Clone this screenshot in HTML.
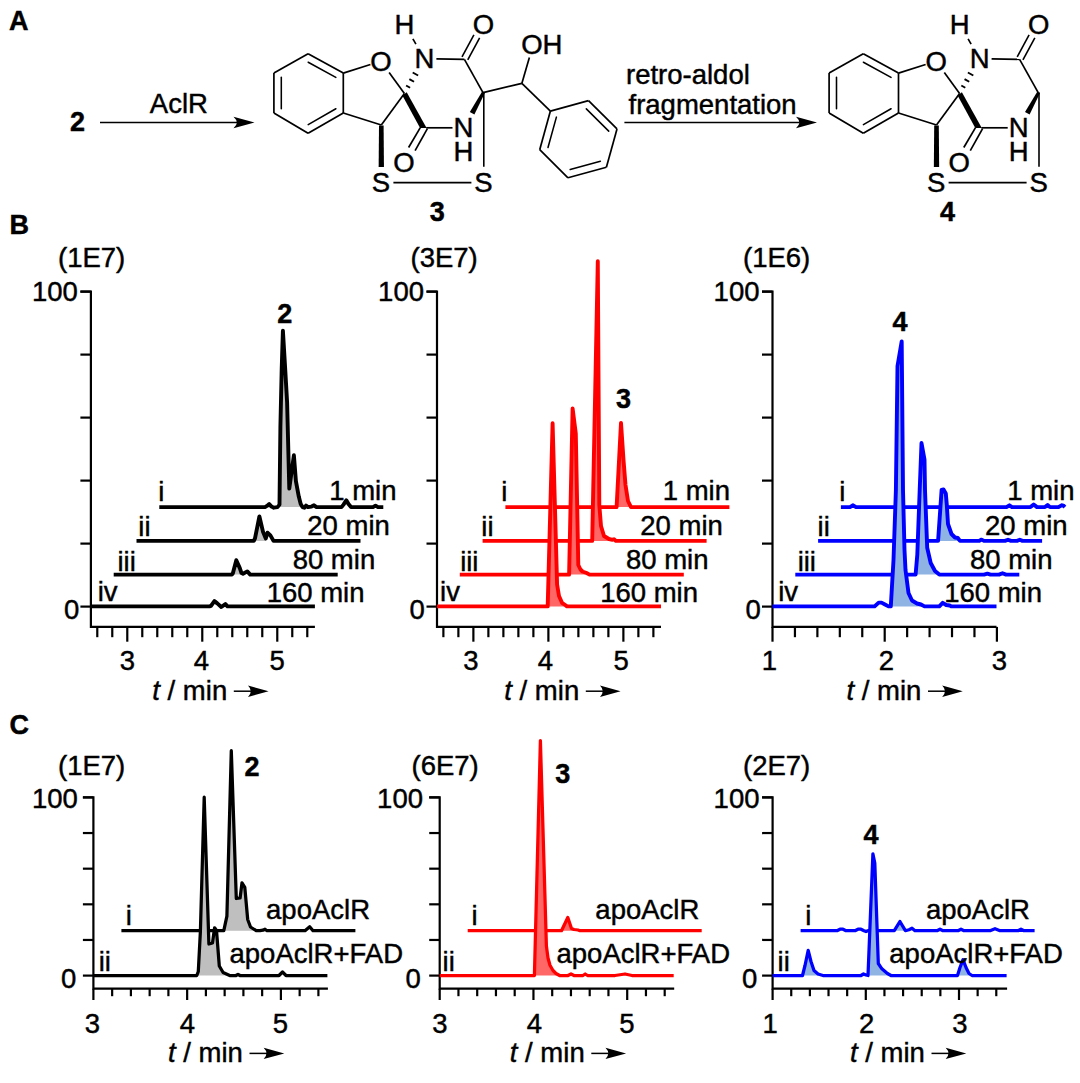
<!DOCTYPE html>
<html><head><meta charset="utf-8"><style>
html,body{margin:0;padding:0;background:#fff;}
svg{display:block;font-family:"Liberation Sans", sans-serif;}
text{stroke:#000;stroke-width:0.45px;}
</style></head><body>
<svg width="1080" height="1083" viewBox="0 0 1080 1083">
<rect width="1080" height="1083" fill="#fff"/>
<text x="9" y="29.5" text-anchor="start" font-size="27" font-weight="bold" font-style="normal" fill="#000">A</text>
<text x="77.6" y="131.3" text-anchor="middle" font-size="27" font-weight="bold" font-style="normal" fill="#000">2</text>
<text x="178.9" y="113" text-anchor="middle" font-size="27.5" font-weight="normal" font-style="normal" fill="#000">AclR</text>
<line x1="100" y1="122.5" x2="237.25" y2="122.5" stroke="#000" stroke-width="1.6" stroke-linecap="butt"/>
<path d="M254.50,122.50 L233.50,116.70 Q240.00,122.50 233.50,128.30 Z" fill="#000"/>
<line x1="308.1" y1="53.7" x2="343.3" y2="73.1" stroke="#000" stroke-width="1.7" stroke-linecap="butt"/>
<line x1="343.3" y1="73.1" x2="343.3" y2="113.0" stroke="#000" stroke-width="1.7" stroke-linecap="butt"/>
<line x1="343.3" y1="113.0" x2="308.1" y2="133.3" stroke="#000" stroke-width="1.7" stroke-linecap="butt"/>
<line x1="308.1" y1="133.3" x2="273.9" y2="113.0" stroke="#000" stroke-width="1.7" stroke-linecap="butt"/>
<line x1="273.9" y1="113.0" x2="273.9" y2="73.1" stroke="#000" stroke-width="1.7" stroke-linecap="butt"/>
<line x1="273.9" y1="73.1" x2="308.1" y2="53.7" stroke="#000" stroke-width="1.7" stroke-linecap="butt"/>
<line x1="281.30" y1="77.39" x2="281.30" y2="108.78" stroke="#000" stroke-width="1.55" stroke-linecap="round"/>
<line x1="308.21" y1="62.21" x2="335.83" y2="77.43" stroke="#000" stroke-width="1.55" stroke-linecap="round"/>
<line x1="308.21" y1="124.70" x2="335.85" y2="108.75" stroke="#000" stroke-width="1.55" stroke-linecap="round"/>
<line x1="343.3" y1="73.1" x2="370.42" y2="64.44" stroke="#000" stroke-width="1.7" stroke-linecap="butt"/>
<line x1="389.12" y1="72.43" x2="404.4" y2="93.5" stroke="#000" stroke-width="1.7" stroke-linecap="butt"/>
<line x1="343.3" y1="113.0" x2="381.3" y2="125.0" stroke="#000" stroke-width="1.7" stroke-linecap="butt"/>
<line x1="381.3" y1="125.0" x2="404.4" y2="93.5" stroke="#000" stroke-width="1.7" stroke-linecap="butt"/>
<polygon points="379.00,125.50 378.65,167.00 383.95,167.00 383.60,125.50" fill="#000"/>
<text x="380.9" y="192.4" text-anchor="middle" font-size="27.5" font-weight="normal" font-style="normal" fill="#000">S</text>
<text x="483.4" y="192.4" text-anchor="middle" font-size="27.5" font-weight="normal" font-style="normal" fill="#000">S</text>
<line x1="393.4" y1="182.6" x2="471.4" y2="182.6" stroke="#000" stroke-width="1.7" stroke-linecap="butt"/>
<polygon points="402.40,95.60 406.70,92.30 426.60,127.90 420.10,127.90" fill="#000"/>
<line x1="420.3" y1="127.6" x2="408.6" y2="147.5" stroke="#000" stroke-width="1.7" stroke-linecap="butt"/>
<line x1="427.4" y1="128.6" x2="415.1" y2="150.7" stroke="#000" stroke-width="1.7" stroke-linecap="butt"/>
<text x="404" y="172.1" text-anchor="middle" font-size="27.5" font-weight="normal" font-style="normal" fill="#000">O</text>
<line x1="426.2" y1="127.8" x2="452.5" y2="127.8" stroke="#000" stroke-width="1.7" stroke-linecap="butt"/>
<text x="463.5" y="137.4" text-anchor="middle" font-size="27.5" font-weight="normal" font-style="normal" fill="#000">N</text>
<text x="463.5" y="160.6" text-anchor="middle" font-size="27.5" font-weight="normal" font-style="normal" fill="#000">H</text>
<line x1="406.1" y1="85.47" x2="410.1" y2="87.73" stroke="#000" stroke-width="1.9" stroke-linecap="butt"/>
<line x1="409.35" y1="79.07" x2="414.05" y2="81.73" stroke="#000" stroke-width="1.9" stroke-linecap="butt"/>
<line x1="412.7" y1="72.48" x2="418.1" y2="75.52" stroke="#000" stroke-width="1.9" stroke-linecap="butt"/>
<text x="424.4" y="68.39999999999999" text-anchor="middle" font-size="27.5" font-weight="normal" font-style="normal" fill="#000">N</text>
<text x="404.4" y="33.7" text-anchor="middle" font-size="27.5" font-weight="normal" font-style="normal" fill="#000">H</text>
<line x1="412.89" y1="38.83" x2="415.91" y2="44.07" stroke="#000" stroke-width="1.7" stroke-linecap="butt"/>
<line x1="436.4" y1="58.95" x2="464.4" y2="59.3" stroke="#000" stroke-width="1.7" stroke-linecap="butt"/>
<line x1="467.74" y1="59.96" x2="479.63" y2="37.87" stroke="#000" stroke-width="1.6" stroke-linecap="butt"/>
<line x1="462.01" y1="56.88" x2="473.9" y2="34.79" stroke="#000" stroke-width="1.6" stroke-linecap="butt"/>
<text x="483.4" y="33.8" text-anchor="middle" font-size="27.5" font-weight="normal" font-style="normal" fill="#000">O</text>
<line x1="464.4" y1="59.3" x2="483.0" y2="92.6" stroke="#000" stroke-width="1.7" stroke-linecap="butt"/>
<polygon points="482.18,91.49 469.81,112.06 474.39,114.54 484.82,92.91" fill="#000"/>
<line x1="483.8" y1="92.6" x2="483.8" y2="166.8" stroke="#000" stroke-width="1.6" stroke-linecap="butt"/>
<text x="380.9" y="70.7" text-anchor="middle" font-size="27.5" font-weight="normal" font-style="normal" fill="#000">O</text>
<line x1="483.0" y1="92.6" x2="521.9" y2="83.3" stroke="#000" stroke-width="1.7" stroke-linecap="butt"/>
<line x1="521.9" y1="83.3" x2="529.38" y2="57.49" stroke="#000" stroke-width="1.7" stroke-linecap="butt"/>
<text x="541.8" y="53.8" text-anchor="middle" font-size="27.5" font-weight="normal" font-style="normal" fill="#000">OH</text>
<line x1="521.9" y1="83.3" x2="550.4" y2="111.1" stroke="#000" stroke-width="1.7" stroke-linecap="butt"/>
<line x1="550.4" y1="111.1" x2="588.5" y2="100.6" stroke="#000" stroke-width="1.7" stroke-linecap="butt"/>
<line x1="588.5" y1="100.6" x2="617.0" y2="128.9" stroke="#000" stroke-width="1.7" stroke-linecap="butt"/>
<line x1="617.0" y1="128.9" x2="606.4" y2="167.3" stroke="#000" stroke-width="1.7" stroke-linecap="butt"/>
<line x1="606.4" y1="167.3" x2="568.0" y2="177.8" stroke="#000" stroke-width="1.7" stroke-linecap="butt"/>
<line x1="568.0" y1="177.8" x2="539.7" y2="149.7" stroke="#000" stroke-width="1.7" stroke-linecap="butt"/>
<line x1="539.7" y1="149.7" x2="550.4" y2="111.1" stroke="#000" stroke-width="1.7" stroke-linecap="butt"/>
<line x1="586.32" y1="108.86" x2="608.72" y2="131.10" stroke="#000" stroke-width="1.55" stroke-linecap="round"/>
<line x1="570.21" y1="169.52" x2="600.38" y2="161.28" stroke="#000" stroke-width="1.55" stroke-linecap="round"/>
<line x1="556.40" y1="117.15" x2="548.00" y2="147.44" stroke="#000" stroke-width="1.55" stroke-linecap="round"/>
<text x="437.3" y="220.9" text-anchor="middle" font-size="27" font-weight="bold" font-style="normal" fill="#000">3</text>
<text x="626" y="84.3" text-anchor="start" font-size="27.5" font-weight="normal" font-style="normal" fill="#000">retro-aldol</text>
<text x="628.5" y="113.6" text-anchor="start" font-size="27.5" font-weight="normal" font-style="normal" fill="#000">fragmentation</text>
<line x1="624.4" y1="122.5" x2="799.75" y2="122.5" stroke="#000" stroke-width="1.6" stroke-linecap="butt"/>
<path d="M817.00,122.50 L796.00,116.70 Q802.50,122.50 796.00,128.30 Z" fill="#000"/>
<line x1="863.3" y1="53.7" x2="898.5" y2="73.1" stroke="#000" stroke-width="1.7" stroke-linecap="butt"/>
<line x1="898.5" y1="73.1" x2="898.5" y2="113.0" stroke="#000" stroke-width="1.7" stroke-linecap="butt"/>
<line x1="898.5" y1="113.0" x2="863.3" y2="133.3" stroke="#000" stroke-width="1.7" stroke-linecap="butt"/>
<line x1="863.3" y1="133.3" x2="829.1" y2="113.0" stroke="#000" stroke-width="1.7" stroke-linecap="butt"/>
<line x1="829.1" y1="113.0" x2="829.1" y2="73.1" stroke="#000" stroke-width="1.7" stroke-linecap="butt"/>
<line x1="829.1" y1="73.1" x2="863.3" y2="53.7" stroke="#000" stroke-width="1.7" stroke-linecap="butt"/>
<line x1="836.50" y1="77.39" x2="836.50" y2="108.78" stroke="#000" stroke-width="1.55" stroke-linecap="round"/>
<line x1="863.41" y1="62.21" x2="891.03" y2="77.43" stroke="#000" stroke-width="1.55" stroke-linecap="round"/>
<line x1="863.41" y1="124.70" x2="891.05" y2="108.75" stroke="#000" stroke-width="1.55" stroke-linecap="round"/>
<line x1="898.5" y1="73.1" x2="925.62" y2="64.44" stroke="#000" stroke-width="1.7" stroke-linecap="butt"/>
<line x1="944.32" y1="72.43" x2="959.6" y2="93.5" stroke="#000" stroke-width="1.7" stroke-linecap="butt"/>
<line x1="898.5" y1="113.0" x2="936.5" y2="125.0" stroke="#000" stroke-width="1.7" stroke-linecap="butt"/>
<line x1="936.5" y1="125.0" x2="959.6" y2="93.5" stroke="#000" stroke-width="1.7" stroke-linecap="butt"/>
<polygon points="934.20,125.50 933.85,167.00 939.15,167.00 938.80,125.50" fill="#000"/>
<text x="936.1" y="192.4" text-anchor="middle" font-size="27.5" font-weight="normal" font-style="normal" fill="#000">S</text>
<text x="1038.6" y="192.4" text-anchor="middle" font-size="27.5" font-weight="normal" font-style="normal" fill="#000">S</text>
<line x1="948.6" y1="182.6" x2="1026.6" y2="182.6" stroke="#000" stroke-width="1.7" stroke-linecap="butt"/>
<polygon points="957.60,95.60 961.90,92.30 981.80,127.90 975.30,127.90" fill="#000"/>
<line x1="975.5" y1="127.6" x2="963.8" y2="147.5" stroke="#000" stroke-width="1.7" stroke-linecap="butt"/>
<line x1="982.6" y1="128.6" x2="970.3" y2="150.7" stroke="#000" stroke-width="1.7" stroke-linecap="butt"/>
<text x="959.2" y="172.1" text-anchor="middle" font-size="27.5" font-weight="normal" font-style="normal" fill="#000">O</text>
<line x1="981.4" y1="127.8" x2="1007.7" y2="127.8" stroke="#000" stroke-width="1.7" stroke-linecap="butt"/>
<text x="1018.7" y="137.4" text-anchor="middle" font-size="27.5" font-weight="normal" font-style="normal" fill="#000">N</text>
<text x="1018.7" y="160.6" text-anchor="middle" font-size="27.5" font-weight="normal" font-style="normal" fill="#000">H</text>
<line x1="961.3" y1="85.47" x2="965.3" y2="87.73" stroke="#000" stroke-width="1.9" stroke-linecap="butt"/>
<line x1="964.55" y1="79.07" x2="969.25" y2="81.73" stroke="#000" stroke-width="1.9" stroke-linecap="butt"/>
<line x1="967.9" y1="72.48" x2="973.3" y2="75.52" stroke="#000" stroke-width="1.9" stroke-linecap="butt"/>
<text x="979.6" y="68.39999999999999" text-anchor="middle" font-size="27.5" font-weight="normal" font-style="normal" fill="#000">N</text>
<text x="959.6" y="33.7" text-anchor="middle" font-size="27.5" font-weight="normal" font-style="normal" fill="#000">H</text>
<line x1="968.09" y1="38.83" x2="971.11" y2="44.07" stroke="#000" stroke-width="1.7" stroke-linecap="butt"/>
<line x1="991.6" y1="58.95" x2="1019.6" y2="59.3" stroke="#000" stroke-width="1.7" stroke-linecap="butt"/>
<line x1="1022.94" y1="59.96" x2="1034.83" y2="37.87" stroke="#000" stroke-width="1.6" stroke-linecap="butt"/>
<line x1="1017.21" y1="56.88" x2="1029.1" y2="34.79" stroke="#000" stroke-width="1.6" stroke-linecap="butt"/>
<text x="1038.6" y="33.8" text-anchor="middle" font-size="27.5" font-weight="normal" font-style="normal" fill="#000">O</text>
<line x1="1019.6" y1="59.3" x2="1038.2" y2="92.6" stroke="#000" stroke-width="1.7" stroke-linecap="butt"/>
<polygon points="1037.38,91.49 1025.01,112.06 1029.59,114.54 1040.02,92.91" fill="#000"/>
<line x1="1039.0" y1="92.6" x2="1039.0" y2="166.8" stroke="#000" stroke-width="1.6" stroke-linecap="butt"/>
<text x="936.1" y="70.7" text-anchor="middle" font-size="27.5" font-weight="normal" font-style="normal" fill="#000">O</text>
<text x="947.6" y="220.9" text-anchor="middle" font-size="27" font-weight="bold" font-style="normal" fill="#000">4</text>
<path d="M80.4,291.6 H90.9 V626.9 H314.9" fill="none" stroke="#000" stroke-width="2.2" stroke-linejoin="miter"/>
<line x1="80.4" y1="606.6" x2="90.9" y2="606.6" stroke="#000" stroke-width="2.2" stroke-linecap="butt"/>
<line x1="80.4" y1="543.6" x2="90.9" y2="543.6" stroke="#000" stroke-width="2.2" stroke-linecap="butt"/>
<line x1="80.4" y1="480.6" x2="90.9" y2="480.6" stroke="#000" stroke-width="2.2" stroke-linecap="butt"/>
<line x1="80.4" y1="417.6" x2="90.9" y2="417.6" stroke="#000" stroke-width="2.2" stroke-linecap="butt"/>
<line x1="80.4" y1="354.6" x2="90.9" y2="354.6" stroke="#000" stroke-width="2.2" stroke-linecap="butt"/>
<line x1="80.4" y1="291.6" x2="90.9" y2="291.6" stroke="#000" stroke-width="2.2" stroke-linecap="butt"/>
<line x1="97.28" y1="626.9" x2="97.28" y2="637.1999999999999" stroke="#000" stroke-width="2.2" stroke-linecap="butt"/>
<line x1="112.27" y1="626.9" x2="112.27" y2="637.1999999999999" stroke="#000" stroke-width="2.2" stroke-linecap="butt"/>
<line x1="127.28" y1="626.9" x2="127.28" y2="641.6999999999999" stroke="#000" stroke-width="2.2" stroke-linecap="butt"/>
<line x1="142.28" y1="626.9" x2="142.28" y2="637.1999999999999" stroke="#000" stroke-width="2.2" stroke-linecap="butt"/>
<line x1="157.27" y1="626.9" x2="157.27" y2="637.1999999999999" stroke="#000" stroke-width="2.2" stroke-linecap="butt"/>
<line x1="172.28" y1="626.9" x2="172.28" y2="637.1999999999999" stroke="#000" stroke-width="2.2" stroke-linecap="butt"/>
<line x1="187.27" y1="626.9" x2="187.27" y2="637.1999999999999" stroke="#000" stroke-width="2.2" stroke-linecap="butt"/>
<line x1="202.27" y1="626.9" x2="202.27" y2="641.6999999999999" stroke="#000" stroke-width="2.2" stroke-linecap="butt"/>
<line x1="217.28" y1="626.9" x2="217.28" y2="637.1999999999999" stroke="#000" stroke-width="2.2" stroke-linecap="butt"/>
<line x1="232.28" y1="626.9" x2="232.28" y2="637.1999999999999" stroke="#000" stroke-width="2.2" stroke-linecap="butt"/>
<line x1="247.27" y1="626.9" x2="247.27" y2="637.1999999999999" stroke="#000" stroke-width="2.2" stroke-linecap="butt"/>
<line x1="262.27" y1="626.9" x2="262.27" y2="637.1999999999999" stroke="#000" stroke-width="2.2" stroke-linecap="butt"/>
<line x1="277.27" y1="626.9" x2="277.27" y2="641.6999999999999" stroke="#000" stroke-width="2.2" stroke-linecap="butt"/>
<line x1="292.27" y1="626.9" x2="292.27" y2="637.1999999999999" stroke="#000" stroke-width="2.2" stroke-linecap="butt"/>
<line x1="307.28" y1="626.9" x2="307.28" y2="637.1999999999999" stroke="#000" stroke-width="2.2" stroke-linecap="butt"/>
<text x="127.5" y="670.2" text-anchor="middle" font-size="27.5" font-weight="normal" font-style="normal" fill="#000">3</text>
<text x="201.5" y="670.2" text-anchor="middle" font-size="27.5" font-weight="normal" font-style="normal" fill="#000">4</text>
<text x="277.2" y="670.2" text-anchor="middle" font-size="27.5" font-weight="normal" font-style="normal" fill="#000">5</text>
<text x="77.9" y="301.1" text-anchor="end" font-size="27.5" font-weight="normal" font-style="normal" fill="#000">100</text>
<text x="79.4" y="619.4" text-anchor="end" font-size="27.5" font-weight="normal" font-style="normal" fill="#000">0</text>
<text x="58" y="267.2" text-anchor="start" font-size="27.5" font-weight="normal" font-style="normal" fill="#000">(1E7)</text>
<text x="152.3" y="700.2" font-size="27.5"><tspan font-style="italic">t</tspan> / min</text>
<line x1="233.8" y1="691.2" x2="251.30000000000004" y2="691.2" stroke="#000" stroke-width="1.5" stroke-linecap="butt"/>
<path d="M268.60,691.20 L248.00,685.50 Q253.60,691.20 248.00,696.90 Z" fill="#000"/>
<polygon points="279.50,507.10 280.40,427.10 281.70,369.10 282.90,330.70 285.20,369.10 287.10,402.10 289.30,488.60 293.90,455.30 295.90,481.10 298.80,496.60 300.70,504.10 302.50,507.10" fill="#bfbfbf"/>
<path d="M159.30,507.10 L265.00,507.10 L267.00,505.90 L269.20,504.10 L271.50,506.60 L273.80,507.70 L277.50,507.10 L279.50,504.60 L280.40,427.10 L281.70,369.10 L282.90,330.70 L285.20,369.10 L287.10,402.10 L289.30,488.60 L293.90,455.30 L295.90,481.10 L298.80,496.60 L300.70,504.10 L302.50,507.10 L304.40,507.70 L306.00,505.60 L308.00,507.10 L311.50,506.60 L314.00,505.30 L316.50,507.10 L341.50,507.10 L343.50,504.60 L346.30,500.30 L348.50,504.10 L351.00,507.10 L373.00,507.10 L375.50,505.60 L378.00,507.10 L383.30,507.10" fill="none" stroke="#000" stroke-width="3.9" stroke-linejoin="round" stroke-linecap="butt"/>
<polygon points="254.00,540.90 255.00,538.40 259.40,516.40 262.90,531.40 265.80,538.40 266.00,540.90" fill="#bfbfbf"/>
<path d="M136.50,540.90 L253.80,540.90 L255.00,538.40 L259.40,516.40 L262.90,531.40 L265.80,538.40 L267.50,532.70 L270.40,535.40 L273.50,540.90 L360.50,540.90" fill="none" stroke="#000" stroke-width="3.9" stroke-linejoin="round" stroke-linecap="butt"/>
<polygon points="232.00,574.60 232.80,573.60 236.30,560.20 239.80,568.10 240.00,574.60" fill="#bfbfbf"/>
<path d="M113.70,574.60 L231.50,574.60 L232.80,573.60 L236.30,560.20 L239.80,568.10 L241.50,573.10 L243.00,573.80 L247.30,571.40 L250.20,574.60 L337.70,574.60" fill="none" stroke="#000" stroke-width="3.9" stroke-linejoin="round" stroke-linecap="butt"/>
<path d="M90.90,606.40 L209.50,606.40 L211.00,605.90 L214.40,601.10 L217.30,603.40 L221.30,607.00 L225.40,604.10 L227.50,606.40 L314.90,606.40" fill="none" stroke="#000" stroke-width="3.9" stroke-linejoin="round" stroke-linecap="butt"/>
<text x="107.6" y="601.0" text-anchor="middle" font-size="27.5" font-weight="normal" font-style="normal" fill="#000">iv</text>
<text x="126.6" y="571.0" text-anchor="middle" font-size="27.5" font-weight="normal" font-style="normal" fill="#000">iii</text>
<text x="144.4" y="536.0" text-anchor="middle" font-size="27.5" font-weight="normal" font-style="normal" fill="#000">ii</text>
<text x="161.3" y="500.7" text-anchor="middle" font-size="27.5" font-weight="normal" font-style="normal" fill="#000">i</text>
<text x="364.5" y="602.3" text-anchor="end" font-size="27.5" font-weight="normal" font-style="normal" fill="#000">160 min</text>
<text x="375.2" y="569.3" text-anchor="end" font-size="27.5" font-weight="normal" font-style="normal" fill="#000">80 min</text>
<text x="389.8" y="535.2" text-anchor="end" font-size="27.5" font-weight="normal" font-style="normal" fill="#000">20 min</text>
<text x="396.5" y="500.4" text-anchor="end" font-size="27.5" font-weight="normal" font-style="normal" fill="#000">1 min</text>
<text x="284.8" y="323" text-anchor="middle" font-size="27" font-weight="bold" font-style="normal" fill="#000">2</text>
<path d="M426.5,291.6 H437.0 V626.9 H661.0" fill="none" stroke="#000" stroke-width="2.2" stroke-linejoin="miter"/>
<line x1="426.5" y1="606.6" x2="437.0" y2="606.6" stroke="#000" stroke-width="2.2" stroke-linecap="butt"/>
<line x1="426.5" y1="543.6" x2="437.0" y2="543.6" stroke="#000" stroke-width="2.2" stroke-linecap="butt"/>
<line x1="426.5" y1="480.6" x2="437.0" y2="480.6" stroke="#000" stroke-width="2.2" stroke-linecap="butt"/>
<line x1="426.5" y1="417.6" x2="437.0" y2="417.6" stroke="#000" stroke-width="2.2" stroke-linecap="butt"/>
<line x1="426.5" y1="354.6" x2="437.0" y2="354.6" stroke="#000" stroke-width="2.2" stroke-linecap="butt"/>
<line x1="426.5" y1="291.6" x2="437.0" y2="291.6" stroke="#000" stroke-width="2.2" stroke-linecap="butt"/>
<line x1="443.38" y1="626.9" x2="443.38" y2="637.1999999999999" stroke="#000" stroke-width="2.2" stroke-linecap="butt"/>
<line x1="458.38" y1="626.9" x2="458.38" y2="637.1999999999999" stroke="#000" stroke-width="2.2" stroke-linecap="butt"/>
<line x1="473.38" y1="626.9" x2="473.38" y2="641.6999999999999" stroke="#000" stroke-width="2.2" stroke-linecap="butt"/>
<line x1="488.38" y1="626.9" x2="488.38" y2="637.1999999999999" stroke="#000" stroke-width="2.2" stroke-linecap="butt"/>
<line x1="503.38" y1="626.9" x2="503.38" y2="637.1999999999999" stroke="#000" stroke-width="2.2" stroke-linecap="butt"/>
<line x1="518.38" y1="626.9" x2="518.38" y2="637.1999999999999" stroke="#000" stroke-width="2.2" stroke-linecap="butt"/>
<line x1="533.38" y1="626.9" x2="533.38" y2="637.1999999999999" stroke="#000" stroke-width="2.2" stroke-linecap="butt"/>
<line x1="548.38" y1="626.9" x2="548.38" y2="641.6999999999999" stroke="#000" stroke-width="2.2" stroke-linecap="butt"/>
<line x1="563.38" y1="626.9" x2="563.38" y2="637.1999999999999" stroke="#000" stroke-width="2.2" stroke-linecap="butt"/>
<line x1="578.38" y1="626.9" x2="578.38" y2="637.1999999999999" stroke="#000" stroke-width="2.2" stroke-linecap="butt"/>
<line x1="593.38" y1="626.9" x2="593.38" y2="637.1999999999999" stroke="#000" stroke-width="2.2" stroke-linecap="butt"/>
<line x1="608.38" y1="626.9" x2="608.38" y2="637.1999999999999" stroke="#000" stroke-width="2.2" stroke-linecap="butt"/>
<line x1="623.38" y1="626.9" x2="623.38" y2="641.6999999999999" stroke="#000" stroke-width="2.2" stroke-linecap="butt"/>
<line x1="638.38" y1="626.9" x2="638.38" y2="637.1999999999999" stroke="#000" stroke-width="2.2" stroke-linecap="butt"/>
<line x1="653.38" y1="626.9" x2="653.38" y2="637.1999999999999" stroke="#000" stroke-width="2.2" stroke-linecap="butt"/>
<text x="471" y="670.2" text-anchor="middle" font-size="27.5" font-weight="normal" font-style="normal" fill="#000">3</text>
<text x="545.5" y="670.2" text-anchor="middle" font-size="27.5" font-weight="normal" font-style="normal" fill="#000">4</text>
<text x="621.2" y="670.2" text-anchor="middle" font-size="27.5" font-weight="normal" font-style="normal" fill="#000">5</text>
<text x="424.0" y="301.1" text-anchor="end" font-size="27.5" font-weight="normal" font-style="normal" fill="#000">100</text>
<text x="424.8" y="619.4" text-anchor="end" font-size="27.5" font-weight="normal" font-style="normal" fill="#000">0</text>
<text x="410.5" y="267.2" text-anchor="start" font-size="27.5" font-weight="normal" font-style="normal" fill="#000">(3E7)</text>
<text x="504.3" y="700.2" font-size="27.5"><tspan font-style="italic">t</tspan> / min</text>
<line x1="585.8" y1="691.2" x2="603.3" y2="691.2" stroke="#000" stroke-width="1.5" stroke-linecap="butt"/>
<path d="M620.60,691.20 L600.00,685.50 Q605.60,691.20 600.00,696.90 Z" fill="#000"/>
<polygon points="617.00,507.10 621.00,422.90 623.50,460.00 625.50,485.00 628.00,501.00 630.00,507.10" fill="#ff6666"/>
<path d="M505.40,507.10 L616.60,507.10 L621.00,422.90 L623.50,460.00 L625.50,485.00 L628.00,501.00 L631.00,507.10 L729.40,507.10" fill="none" stroke="#ff0000" stroke-width="3.9" stroke-linejoin="round" stroke-linecap="butt"/>
<polygon points="592.50,540.90 597.80,261.30 599.30,505.00 601.00,526.00 604.00,536.00 609.00,539.00 612.50,539.80 614.00,540.90" fill="#ff6666"/>
<path d="M482.60,540.90 L592.20,540.90 L597.80,261.30 L599.30,505.00 L601.00,526.00 L604.00,536.00 L609.00,539.00 L612.50,539.80 L614.00,539.20 L616.00,540.90 L706.60,540.90" fill="none" stroke="#ff0000" stroke-width="3.9" stroke-linejoin="round" stroke-linecap="butt"/>
<polygon points="569.50,574.60 572.60,408.50 575.80,433.50 578.30,565.00 580.50,569.50 582.50,571.50 586.60,573.00 588.00,574.60" fill="#ff6666"/>
<path d="M459.80,574.60 L569.10,574.60 L572.60,408.50 L575.80,433.50 L578.30,565.00 L580.50,569.50 L582.50,571.50 L586.60,573.00 L589.50,574.60 L683.80,574.60" fill="none" stroke="#ff0000" stroke-width="3.9" stroke-linejoin="round" stroke-linecap="butt"/>
<polygon points="548.00,606.40 552.60,423.20 557.10,584.50 559.00,596.00 562.00,602.80 565.20,605.00 566.00,606.40" fill="#ff6666"/>
<path d="M437.00,606.40 L547.70,606.40 L552.60,423.20 L557.10,584.50 L559.00,596.00 L562.00,602.80 L565.20,605.00 L567.00,606.40 L661.00,606.40" fill="none" stroke="#ff0000" stroke-width="3.9" stroke-linejoin="round" stroke-linecap="butt"/>
<text x="450" y="601.0" text-anchor="middle" font-size="27.5" font-weight="normal" font-style="normal" fill="#000">iv</text>
<text x="469.3" y="571.0" text-anchor="middle" font-size="27.5" font-weight="normal" font-style="normal" fill="#000">iii</text>
<text x="487.4" y="536.0" text-anchor="middle" font-size="27.5" font-weight="normal" font-style="normal" fill="#000">ii</text>
<text x="504.3" y="500.7" text-anchor="middle" font-size="27.5" font-weight="normal" font-style="normal" fill="#000">i</text>
<text x="698" y="602.3" text-anchor="end" font-size="27.5" font-weight="normal" font-style="normal" fill="#000">160 min</text>
<text x="708.5" y="569.3" text-anchor="end" font-size="27.5" font-weight="normal" font-style="normal" fill="#000">80 min</text>
<text x="722.8" y="535.2" text-anchor="end" font-size="27.5" font-weight="normal" font-style="normal" fill="#000">20 min</text>
<text x="730" y="500.4" text-anchor="end" font-size="27.5" font-weight="normal" font-style="normal" fill="#000">1 min</text>
<text x="623.4" y="407.8" text-anchor="middle" font-size="27" font-weight="bold" font-style="normal" fill="#000">3</text>
<path d="M762.0,291.6 H772.5 V626.9 H996.5" fill="none" stroke="#000" stroke-width="2.2" stroke-linejoin="miter"/>
<line x1="762.0" y1="606.6" x2="772.5" y2="606.6" stroke="#000" stroke-width="2.2" stroke-linecap="butt"/>
<line x1="762.0" y1="543.6" x2="772.5" y2="543.6" stroke="#000" stroke-width="2.2" stroke-linecap="butt"/>
<line x1="762.0" y1="480.6" x2="772.5" y2="480.6" stroke="#000" stroke-width="2.2" stroke-linecap="butt"/>
<line x1="762.0" y1="417.6" x2="772.5" y2="417.6" stroke="#000" stroke-width="2.2" stroke-linecap="butt"/>
<line x1="762.0" y1="354.6" x2="772.5" y2="354.6" stroke="#000" stroke-width="2.2" stroke-linecap="butt"/>
<line x1="762.0" y1="291.6" x2="772.5" y2="291.6" stroke="#000" stroke-width="2.2" stroke-linecap="butt"/>
<line x1="772.5" y1="626.9" x2="772.5" y2="641.6999999999999" stroke="#000" stroke-width="2.2" stroke-linecap="butt"/>
<line x1="794.94" y1="626.9" x2="794.94" y2="637.1999999999999" stroke="#000" stroke-width="2.2" stroke-linecap="butt"/>
<line x1="817.38" y1="626.9" x2="817.38" y2="637.1999999999999" stroke="#000" stroke-width="2.2" stroke-linecap="butt"/>
<line x1="839.82" y1="626.9" x2="839.82" y2="637.1999999999999" stroke="#000" stroke-width="2.2" stroke-linecap="butt"/>
<line x1="862.26" y1="626.9" x2="862.26" y2="637.1999999999999" stroke="#000" stroke-width="2.2" stroke-linecap="butt"/>
<line x1="884.7" y1="626.9" x2="884.7" y2="641.6999999999999" stroke="#000" stroke-width="2.2" stroke-linecap="butt"/>
<line x1="907.14" y1="626.9" x2="907.14" y2="637.1999999999999" stroke="#000" stroke-width="2.2" stroke-linecap="butt"/>
<line x1="929.58" y1="626.9" x2="929.58" y2="637.1999999999999" stroke="#000" stroke-width="2.2" stroke-linecap="butt"/>
<line x1="952.02" y1="626.9" x2="952.02" y2="637.1999999999999" stroke="#000" stroke-width="2.2" stroke-linecap="butt"/>
<line x1="974.46" y1="626.9" x2="974.46" y2="637.1999999999999" stroke="#000" stroke-width="2.2" stroke-linecap="butt"/>
<line x1="996.9" y1="626.9" x2="996.9" y2="641.6999999999999" stroke="#000" stroke-width="2.2" stroke-linecap="butt"/>
<text x="769.5" y="670.2" text-anchor="middle" font-size="27.5" font-weight="normal" font-style="normal" fill="#000">1</text>
<text x="886.4" y="670.2" text-anchor="middle" font-size="27.5" font-weight="normal" font-style="normal" fill="#000">2</text>
<text x="999.5" y="670.2" text-anchor="middle" font-size="27.5" font-weight="normal" font-style="normal" fill="#000">3</text>
<text x="759.5" y="301.1" text-anchor="end" font-size="27.5" font-weight="normal" font-style="normal" fill="#000">100</text>
<text x="760.8" y="619.4" text-anchor="end" font-size="27.5" font-weight="normal" font-style="normal" fill="#000">0</text>
<text x="743" y="267.2" text-anchor="start" font-size="27.5" font-weight="normal" font-style="normal" fill="#000">(1E6)</text>
<text x="846.5" y="700.2" font-size="27.5"><tspan font-style="italic">t</tspan> / min</text>
<line x1="928.0" y1="691.2" x2="945.4999999999999" y2="691.2" stroke="#000" stroke-width="1.5" stroke-linecap="butt"/>
<path d="M962.80,691.20 L942.20,685.50 Q947.80,691.20 942.20,696.90 Z" fill="#000"/>
<path d="M840.90,507.10 L850.00,507.10 L853.10,505.30 L856.00,507.10 L1006.50,507.10 L1009.40,505.30 L1012.00,507.10 L1030.50,507.10 L1033.70,504.50 L1037.00,507.10 L1045.00,507.10 L1047.60,505.00 L1050.00,507.10 L1058.50,507.10 L1061.50,505.30 L1063.50,505.60 L1064.90,507.10" fill="none" stroke="#0000ff" stroke-width="3.9" stroke-linejoin="round" stroke-linecap="butt"/>
<polygon points="938.50,540.90 941.60,490.00 943.50,489.50 945.80,493.50 946.80,505.00 948.00,524.00 951.50,534.00 955.00,537.50 957.80,538.00 960.00,540.90" fill="#8fb4e3"/>
<path d="M818.10,540.90 L938.10,540.90 L941.60,490.00 L943.50,489.50 L945.80,493.50 L946.80,505.00 L948.00,524.00 L951.50,534.00 L955.00,537.50 L957.80,538.00 L960.00,540.90 L979.00,540.90 L981.60,539.60 L984.00,540.90 L1005.00,540.90 L1008.00,539.70 L1011.00,540.90 L1017.00,540.90 L1019.80,539.80 L1022.50,540.90 L1042.10,540.90" fill="none" stroke="#0000ff" stroke-width="3.9" stroke-linejoin="round" stroke-linecap="butt"/>
<polygon points="916.00,574.60 917.30,554.70 919.70,490.00 921.50,443.00 924.50,459.50 925.00,490.00 927.20,547.70 930.70,563.00 935.00,571.00 939.00,574.60" fill="#8fb4e3"/>
<path d="M795.30,574.60 L915.60,574.60 L917.30,554.70 L919.70,490.00 L921.50,443.00 L924.50,459.50 L925.00,490.00 L927.20,547.70 L930.70,563.00 L935.00,571.00 L939.30,574.60 L984.00,574.60 L987.40,573.60 L990.50,574.60 L999.00,574.60 L1002.50,573.20 L1006.00,574.60 L1019.30,574.60" fill="none" stroke="#0000ff" stroke-width="3.9" stroke-linejoin="round" stroke-linecap="butt"/>
<polygon points="891.00,606.40 893.50,560.00 895.90,490.00 897.50,366.00 901.70,341.40 903.00,490.00 904.50,550.00 905.50,570.00 908.50,593.00 912.00,600.50 917.00,603.50 921.00,604.50 924.50,606.40" fill="#8fb4e3"/>
<path d="M772.50,606.40 L874.60,606.40 L878.70,602.60 L881.50,602.60 L885.00,604.50 L888.50,606.40 L890.80,606.40 L893.50,560.00 L895.90,490.00 L897.50,366.00 L901.70,341.40 L903.00,490.00 L904.50,550.00 L905.50,570.00 L908.50,593.00 L912.00,600.50 L917.00,603.50 L921.00,604.50 L924.50,606.40 L939.30,606.40 L942.70,602.80 L946.20,605.00 L949.70,605.50 L951.50,606.40 L996.50,606.40" fill="none" stroke="#0000ff" stroke-width="3.9" stroke-linejoin="round" stroke-linecap="butt"/>
<text x="788.1" y="601.0" text-anchor="middle" font-size="27.5" font-weight="normal" font-style="normal" fill="#000">iv</text>
<text x="806.8" y="571.0" text-anchor="middle" font-size="27.5" font-weight="normal" font-style="normal" fill="#000">iii</text>
<text x="823.7" y="536.0" text-anchor="middle" font-size="27.5" font-weight="normal" font-style="normal" fill="#000">ii</text>
<text x="842.4" y="500.7" text-anchor="middle" font-size="27.5" font-weight="normal" font-style="normal" fill="#000">i</text>
<text x="1042" y="602.3" text-anchor="end" font-size="27.5" font-weight="normal" font-style="normal" fill="#000">160 min</text>
<text x="1052.5" y="569.3" text-anchor="end" font-size="27.5" font-weight="normal" font-style="normal" fill="#000">80 min</text>
<text x="1067.6" y="535.2" text-anchor="end" font-size="27.5" font-weight="normal" font-style="normal" fill="#000">20 min</text>
<text x="1074.5" y="500.4" text-anchor="end" font-size="27.5" font-weight="normal" font-style="normal" fill="#000">1 min</text>
<text x="900" y="330.7" text-anchor="middle" font-size="27" font-weight="bold" font-style="normal" fill="#000">4</text>
<path d="M82.9,797.4 H93.4 V988.7 H327.9" fill="none" stroke="#000" stroke-width="2.2" stroke-linejoin="miter"/>
<line x1="82.9" y1="975.6" x2="93.4" y2="975.6" stroke="#000" stroke-width="2.2" stroke-linecap="butt"/>
<line x1="82.9" y1="939.96" x2="93.4" y2="939.96" stroke="#000" stroke-width="2.2" stroke-linecap="butt"/>
<line x1="82.9" y1="904.32" x2="93.4" y2="904.32" stroke="#000" stroke-width="2.2" stroke-linecap="butt"/>
<line x1="82.9" y1="868.68" x2="93.4" y2="868.68" stroke="#000" stroke-width="2.2" stroke-linecap="butt"/>
<line x1="82.9" y1="833.04" x2="93.4" y2="833.04" stroke="#000" stroke-width="2.2" stroke-linecap="butt"/>
<line x1="82.9" y1="797.4" x2="93.4" y2="797.4" stroke="#000" stroke-width="2.2" stroke-linecap="butt"/>
<line x1="93.4" y1="988.7" x2="93.4" y2="1000.0" stroke="#000" stroke-width="2.2" stroke-linecap="butt"/>
<line x1="112.15" y1="988.7" x2="112.15" y2="996.2" stroke="#000" stroke-width="2.2" stroke-linecap="butt"/>
<line x1="130.9" y1="988.7" x2="130.9" y2="996.2" stroke="#000" stroke-width="2.2" stroke-linecap="butt"/>
<line x1="149.65" y1="988.7" x2="149.65" y2="996.2" stroke="#000" stroke-width="2.2" stroke-linecap="butt"/>
<line x1="168.4" y1="988.7" x2="168.4" y2="996.2" stroke="#000" stroke-width="2.2" stroke-linecap="butt"/>
<line x1="187.15" y1="988.7" x2="187.15" y2="1000.0" stroke="#000" stroke-width="2.2" stroke-linecap="butt"/>
<line x1="205.9" y1="988.7" x2="205.9" y2="996.2" stroke="#000" stroke-width="2.2" stroke-linecap="butt"/>
<line x1="224.65" y1="988.7" x2="224.65" y2="996.2" stroke="#000" stroke-width="2.2" stroke-linecap="butt"/>
<line x1="243.4" y1="988.7" x2="243.4" y2="996.2" stroke="#000" stroke-width="2.2" stroke-linecap="butt"/>
<line x1="262.15" y1="988.7" x2="262.15" y2="996.2" stroke="#000" stroke-width="2.2" stroke-linecap="butt"/>
<line x1="280.9" y1="988.7" x2="280.9" y2="1000.0" stroke="#000" stroke-width="2.2" stroke-linecap="butt"/>
<line x1="299.65" y1="988.7" x2="299.65" y2="996.2" stroke="#000" stroke-width="2.2" stroke-linecap="butt"/>
<line x1="318.4" y1="988.7" x2="318.4" y2="996.2" stroke="#000" stroke-width="2.2" stroke-linecap="butt"/>
<text x="92.4" y="1033.1" text-anchor="middle" font-size="27.5" font-weight="normal" font-style="normal" fill="#000">3</text>
<text x="187.5" y="1033.1" text-anchor="middle" font-size="27.5" font-weight="normal" font-style="normal" fill="#000">4</text>
<text x="280.4" y="1033.1" text-anchor="middle" font-size="27.5" font-weight="normal" font-style="normal" fill="#000">5</text>
<text x="77.80000000000001" y="807.9" text-anchor="end" font-size="27.5" font-weight="normal" font-style="normal" fill="#000">100</text>
<text x="76.4" y="988.1" text-anchor="end" font-size="27.5" font-weight="normal" font-style="normal" fill="#000">0</text>
<text x="58" y="775.2" text-anchor="start" font-size="27.5" font-weight="normal" font-style="normal" fill="#000">(1E7)</text>
<text x="168" y="1062.4" font-size="27.5"><tspan font-style="italic">t</tspan> / min</text>
<line x1="249.5" y1="1053.4" x2="267.0" y2="1053.4" stroke="#000" stroke-width="1.5" stroke-linecap="butt"/>
<path d="M284.30,1053.40 L263.70,1047.70 Q269.30,1053.40 263.70,1059.10 Z" fill="#000"/>
<polygon points="224.00,930.70 226.90,916.20 231.30,750.70 236.30,898.50 240.10,898.00 242.00,882.80 244.80,887.30 247.70,919.50 250.50,927.00 256.00,930.70" fill="#bfbfbf"/>
<path d="M121.40,930.70 L223.80,930.70 L226.90,916.20 L231.30,750.70 L236.30,898.50 L240.10,898.00 L242.00,882.80 L244.80,887.30 L247.70,919.50 L250.50,927.00 L256.20,930.70 L260.00,930.70 L263.00,930.20 L265.00,929.20 L267.00,930.70 L305.00,930.70 L309.70,926.70 L313.00,930.70 L355.40,930.70" fill="none" stroke="#000" stroke-width="3.25" stroke-linejoin="round" stroke-linecap="butt"/>
<polygon points="197.00,975.50 198.30,971.50 200.40,931.30 204.20,797.20 208.90,944.00 212.50,943.00 214.60,927.80 216.50,930.50 219.30,966.00 223.10,972.50 229.00,975.50" fill="#bfbfbf"/>
<path d="M93.40,975.50 L196.80,975.50 L198.30,971.50 L200.40,931.30 L204.20,797.20 L208.90,944.00 L212.50,943.00 L214.60,927.80 L216.50,930.50 L219.30,966.00 L223.10,972.50 L229.70,975.50 L236.00,975.50 L238.00,974.30 L240.00,975.50 L279.00,975.50 L282.50,972.00 L286.00,975.50 L327.40,975.50" fill="none" stroke="#000" stroke-width="3.25" stroke-linejoin="round" stroke-linecap="butt"/>
<text x="104.8" y="970.6" text-anchor="middle" font-size="27.5" font-weight="normal" font-style="normal" fill="#000">ii</text>
<text x="128.9" y="924.7" text-anchor="middle" font-size="27.5" font-weight="normal" font-style="normal" fill="#000">i</text>
<text x="403" y="963.3" text-anchor="end" font-size="27.5" font-weight="normal" font-style="normal" fill="#000">apoAclR+FAD</text>
<text x="370" y="918.7" text-anchor="end" font-size="27.5" font-weight="normal" font-style="normal" fill="#000">apoAclR</text>
<text x="251.9" y="776" text-anchor="middle" font-size="27" font-weight="bold" font-style="normal" fill="#000">2</text>
<path d="M429.2,797.4 H439.7 V988.7 H674.2" fill="none" stroke="#000" stroke-width="2.2" stroke-linejoin="miter"/>
<line x1="429.2" y1="975.6" x2="439.7" y2="975.6" stroke="#000" stroke-width="2.2" stroke-linecap="butt"/>
<line x1="429.2" y1="939.96" x2="439.7" y2="939.96" stroke="#000" stroke-width="2.2" stroke-linecap="butt"/>
<line x1="429.2" y1="904.32" x2="439.7" y2="904.32" stroke="#000" stroke-width="2.2" stroke-linecap="butt"/>
<line x1="429.2" y1="868.68" x2="439.7" y2="868.68" stroke="#000" stroke-width="2.2" stroke-linecap="butt"/>
<line x1="429.2" y1="833.04" x2="439.7" y2="833.04" stroke="#000" stroke-width="2.2" stroke-linecap="butt"/>
<line x1="429.2" y1="797.4" x2="439.7" y2="797.4" stroke="#000" stroke-width="2.2" stroke-linecap="butt"/>
<line x1="439.7" y1="988.7" x2="439.7" y2="1000.0" stroke="#000" stroke-width="2.2" stroke-linecap="butt"/>
<line x1="458.45" y1="988.7" x2="458.45" y2="996.2" stroke="#000" stroke-width="2.2" stroke-linecap="butt"/>
<line x1="477.2" y1="988.7" x2="477.2" y2="996.2" stroke="#000" stroke-width="2.2" stroke-linecap="butt"/>
<line x1="495.95" y1="988.7" x2="495.95" y2="996.2" stroke="#000" stroke-width="2.2" stroke-linecap="butt"/>
<line x1="514.7" y1="988.7" x2="514.7" y2="996.2" stroke="#000" stroke-width="2.2" stroke-linecap="butt"/>
<line x1="533.45" y1="988.7" x2="533.45" y2="1000.0" stroke="#000" stroke-width="2.2" stroke-linecap="butt"/>
<line x1="552.2" y1="988.7" x2="552.2" y2="996.2" stroke="#000" stroke-width="2.2" stroke-linecap="butt"/>
<line x1="570.95" y1="988.7" x2="570.95" y2="996.2" stroke="#000" stroke-width="2.2" stroke-linecap="butt"/>
<line x1="589.7" y1="988.7" x2="589.7" y2="996.2" stroke="#000" stroke-width="2.2" stroke-linecap="butt"/>
<line x1="608.45" y1="988.7" x2="608.45" y2="996.2" stroke="#000" stroke-width="2.2" stroke-linecap="butt"/>
<line x1="627.2" y1="988.7" x2="627.2" y2="1000.0" stroke="#000" stroke-width="2.2" stroke-linecap="butt"/>
<line x1="645.95" y1="988.7" x2="645.95" y2="996.2" stroke="#000" stroke-width="2.2" stroke-linecap="butt"/>
<line x1="664.7" y1="988.7" x2="664.7" y2="996.2" stroke="#000" stroke-width="2.2" stroke-linecap="butt"/>
<text x="440" y="1033.1" text-anchor="middle" font-size="27.5" font-weight="normal" font-style="normal" fill="#000">3</text>
<text x="534.5" y="1033.1" text-anchor="middle" font-size="27.5" font-weight="normal" font-style="normal" fill="#000">4</text>
<text x="626.8" y="1033.1" text-anchor="middle" font-size="27.5" font-weight="normal" font-style="normal" fill="#000">5</text>
<text x="423.0" y="807.9" text-anchor="end" font-size="27.5" font-weight="normal" font-style="normal" fill="#000">100</text>
<text x="420.7" y="988.1" text-anchor="end" font-size="27.5" font-weight="normal" font-style="normal" fill="#000">0</text>
<text x="411.5" y="775" text-anchor="start" font-size="27.5" font-weight="normal" font-style="normal" fill="#000">(6E7)</text>
<text x="509.8" y="1062.4" font-size="27.5"><tspan font-style="italic">t</tspan> / min</text>
<line x1="591.3" y1="1053.4" x2="608.8" y2="1053.4" stroke="#000" stroke-width="1.5" stroke-linecap="butt"/>
<path d="M626.10,1053.40 L605.50,1047.70 Q611.10,1053.40 605.50,1059.10 Z" fill="#000"/>
<polygon points="561.70,930.70 567.80,917.50 571.50,928.50 574.00,930.70" fill="#ff6666"/>
<path d="M467.70,930.70 L561.50,930.70 L567.80,917.50 L571.50,928.50 L574.00,929.50 L578.00,930.00 L580.00,930.70 L701.70,930.70" fill="none" stroke="#ff0000" stroke-width="3.25" stroke-linejoin="round" stroke-linecap="butt"/>
<polygon points="534.50,975.50 540.40,740.60 546.40,946.00 548.00,958.00 550.00,965.30 553.00,970.50 556.00,973.50 559.50,975.50" fill="#ff6666"/>
<path d="M439.70,975.50 L534.40,975.50 L540.40,740.60 L546.40,946.00 L548.00,958.00 L550.00,965.30 L553.00,970.50 L556.00,973.50 L559.60,975.50 L568.00,975.50 L571.00,974.00 L574.00,975.50 L583.00,975.50 L585.20,974.00 L587.50,975.50 L615.00,975.50 L625.00,974.00 L632.00,975.50 L673.70,975.50" fill="none" stroke="#ff0000" stroke-width="3.25" stroke-linejoin="round" stroke-linecap="butt"/>
<text x="448.7" y="970.6" text-anchor="middle" font-size="27.5" font-weight="normal" font-style="normal" fill="#000">ii</text>
<text x="474.5" y="924.7" text-anchor="middle" font-size="27.5" font-weight="normal" font-style="normal" fill="#000">i</text>
<text x="730" y="963.3" text-anchor="end" font-size="27.5" font-weight="normal" font-style="normal" fill="#000">apoAclR+FAD</text>
<text x="699.3" y="918.7" text-anchor="end" font-size="27.5" font-weight="normal" font-style="normal" fill="#000">apoAclR</text>
<text x="562.7" y="783" text-anchor="middle" font-size="27" font-weight="bold" font-style="normal" fill="#000">3</text>
<path d="M762.1,797.4 H772.6 V988.7 H1007.1" fill="none" stroke="#000" stroke-width="2.2" stroke-linejoin="miter"/>
<line x1="762.1" y1="975.6" x2="772.6" y2="975.6" stroke="#000" stroke-width="2.2" stroke-linecap="butt"/>
<line x1="762.1" y1="939.96" x2="772.6" y2="939.96" stroke="#000" stroke-width="2.2" stroke-linecap="butt"/>
<line x1="762.1" y1="904.32" x2="772.6" y2="904.32" stroke="#000" stroke-width="2.2" stroke-linecap="butt"/>
<line x1="762.1" y1="868.68" x2="772.6" y2="868.68" stroke="#000" stroke-width="2.2" stroke-linecap="butt"/>
<line x1="762.1" y1="833.04" x2="772.6" y2="833.04" stroke="#000" stroke-width="2.2" stroke-linecap="butt"/>
<line x1="762.1" y1="797.4" x2="772.6" y2="797.4" stroke="#000" stroke-width="2.2" stroke-linecap="butt"/>
<line x1="772.6" y1="988.7" x2="772.6" y2="1000.0" stroke="#000" stroke-width="2.2" stroke-linecap="butt"/>
<line x1="791.24" y1="988.7" x2="791.24" y2="996.2" stroke="#000" stroke-width="2.2" stroke-linecap="butt"/>
<line x1="809.88" y1="988.7" x2="809.88" y2="996.2" stroke="#000" stroke-width="2.2" stroke-linecap="butt"/>
<line x1="828.52" y1="988.7" x2="828.52" y2="996.2" stroke="#000" stroke-width="2.2" stroke-linecap="butt"/>
<line x1="847.16" y1="988.7" x2="847.16" y2="996.2" stroke="#000" stroke-width="2.2" stroke-linecap="butt"/>
<line x1="865.8" y1="988.7" x2="865.8" y2="1000.0" stroke="#000" stroke-width="2.2" stroke-linecap="butt"/>
<line x1="884.44" y1="988.7" x2="884.44" y2="996.2" stroke="#000" stroke-width="2.2" stroke-linecap="butt"/>
<line x1="903.08" y1="988.7" x2="903.08" y2="996.2" stroke="#000" stroke-width="2.2" stroke-linecap="butt"/>
<line x1="921.72" y1="988.7" x2="921.72" y2="996.2" stroke="#000" stroke-width="2.2" stroke-linecap="butt"/>
<line x1="940.36" y1="988.7" x2="940.36" y2="996.2" stroke="#000" stroke-width="2.2" stroke-linecap="butt"/>
<line x1="959.0" y1="988.7" x2="959.0" y2="1000.0" stroke="#000" stroke-width="2.2" stroke-linecap="butt"/>
<line x1="977.64" y1="988.7" x2="977.64" y2="996.2" stroke="#000" stroke-width="2.2" stroke-linecap="butt"/>
<line x1="996.28" y1="988.7" x2="996.28" y2="996.2" stroke="#000" stroke-width="2.2" stroke-linecap="butt"/>
<text x="770.1" y="1033.1" text-anchor="middle" font-size="27.5" font-weight="normal" font-style="normal" fill="#000">1</text>
<text x="866.6" y="1033.1" text-anchor="middle" font-size="27.5" font-weight="normal" font-style="normal" fill="#000">2</text>
<text x="959.9" y="1033.1" text-anchor="middle" font-size="27.5" font-weight="normal" font-style="normal" fill="#000">3</text>
<text x="759.5" y="807.9" text-anchor="end" font-size="27.5" font-weight="normal" font-style="normal" fill="#000">100</text>
<text x="757.4" y="988.1" text-anchor="end" font-size="27.5" font-weight="normal" font-style="normal" fill="#000">0</text>
<text x="743" y="775" text-anchor="start" font-size="27.5" font-weight="normal" font-style="normal" fill="#000">(2E7)</text>
<text x="850" y="1062.4" font-size="27.5"><tspan font-style="italic">t</tspan> / min</text>
<line x1="931.5" y1="1053.4" x2="948.9999999999999" y2="1053.4" stroke="#000" stroke-width="1.5" stroke-linecap="butt"/>
<path d="M966.30,1053.40 L945.70,1047.70 Q951.30,1053.40 945.70,1059.10 Z" fill="#000"/>
<polygon points="894.50,930.70 899.90,921.50 905.20,930.70" fill="#8fb4e3"/>
<path d="M800.60,930.70 L837.00,930.70 L840.00,929.20 L843.00,929.20 L846.00,930.70 L855.00,930.70 L858.00,929.20 L861.00,929.20 L864.00,930.70 L866.00,931.50 L868.00,930.70 L894.30,930.70 L899.90,921.50 L905.40,930.70 L909.00,929.70 L912.00,928.20 L915.00,930.70 L937.00,930.70 L940.00,929.20 L943.00,930.70 L958.00,930.70 L961.00,929.20 L964.00,930.70 L990.00,930.70 L995.00,928.70 L1000.00,930.70 L1018.00,930.70 L1021.00,929.20 L1024.00,930.70 L1034.60,930.70" fill="none" stroke="#0000ff" stroke-width="3.25" stroke-linejoin="round" stroke-linecap="butt"/>
<polygon points="868.00,975.50 872.90,853.90 874.80,863.00 878.30,963.50 881.90,968.80 887.40,973.50 891.00,975.50" fill="#8fb4e3"/>
<polygon points="803.00,975.50 805.00,965.50 808.20,950.30 811.00,961.50 814.00,970.50 818.00,974.00 822.00,975.50" fill="#8fb4e3"/>
<polygon points="958.00,975.50 960.00,967.50 963.00,959.70 966.00,967.50 969.00,973.50 971.00,975.50" fill="#8fb4e3"/>
<path d="M772.60,975.50 L802.50,975.50 L805.00,965.50 L808.20,950.30 L811.00,961.50 L814.00,970.50 L818.00,974.00 L823.00,975.50 L861.00,975.50 L863.50,974.00 L866.00,975.00 L868.00,975.50 L872.90,853.90 L874.80,863.00 L878.30,963.50 L881.90,968.80 L887.40,973.50 L891.00,975.50 L957.50,975.50 L960.00,967.50 L963.00,959.70 L966.00,967.50 L969.00,973.50 L972.00,975.50 L1006.60,975.50" fill="none" stroke="#0000ff" stroke-width="3.25" stroke-linejoin="round" stroke-linecap="butt"/>
<text x="783.7" y="970.6" text-anchor="middle" font-size="27.5" font-weight="normal" font-style="normal" fill="#000">ii</text>
<text x="808.2" y="924.7" text-anchor="middle" font-size="27.5" font-weight="normal" font-style="normal" fill="#000">i</text>
<text x="1062.8" y="963.3" text-anchor="end" font-size="27.5" font-weight="normal" font-style="normal" fill="#000">apoAclR+FAD</text>
<text x="1029.9" y="918.7" text-anchor="end" font-size="27.5" font-weight="normal" font-style="normal" fill="#000">apoAclR</text>
<text x="870.9" y="844" text-anchor="middle" font-size="27" font-weight="bold" font-style="normal" fill="#000">4</text>
<text x="9.5" y="234.4" text-anchor="start" font-size="27" font-weight="bold" font-style="normal" fill="#000">B</text>
<text x="9.5" y="734" text-anchor="start" font-size="27" font-weight="bold" font-style="normal" fill="#000">C</text>
</svg></body></html>
